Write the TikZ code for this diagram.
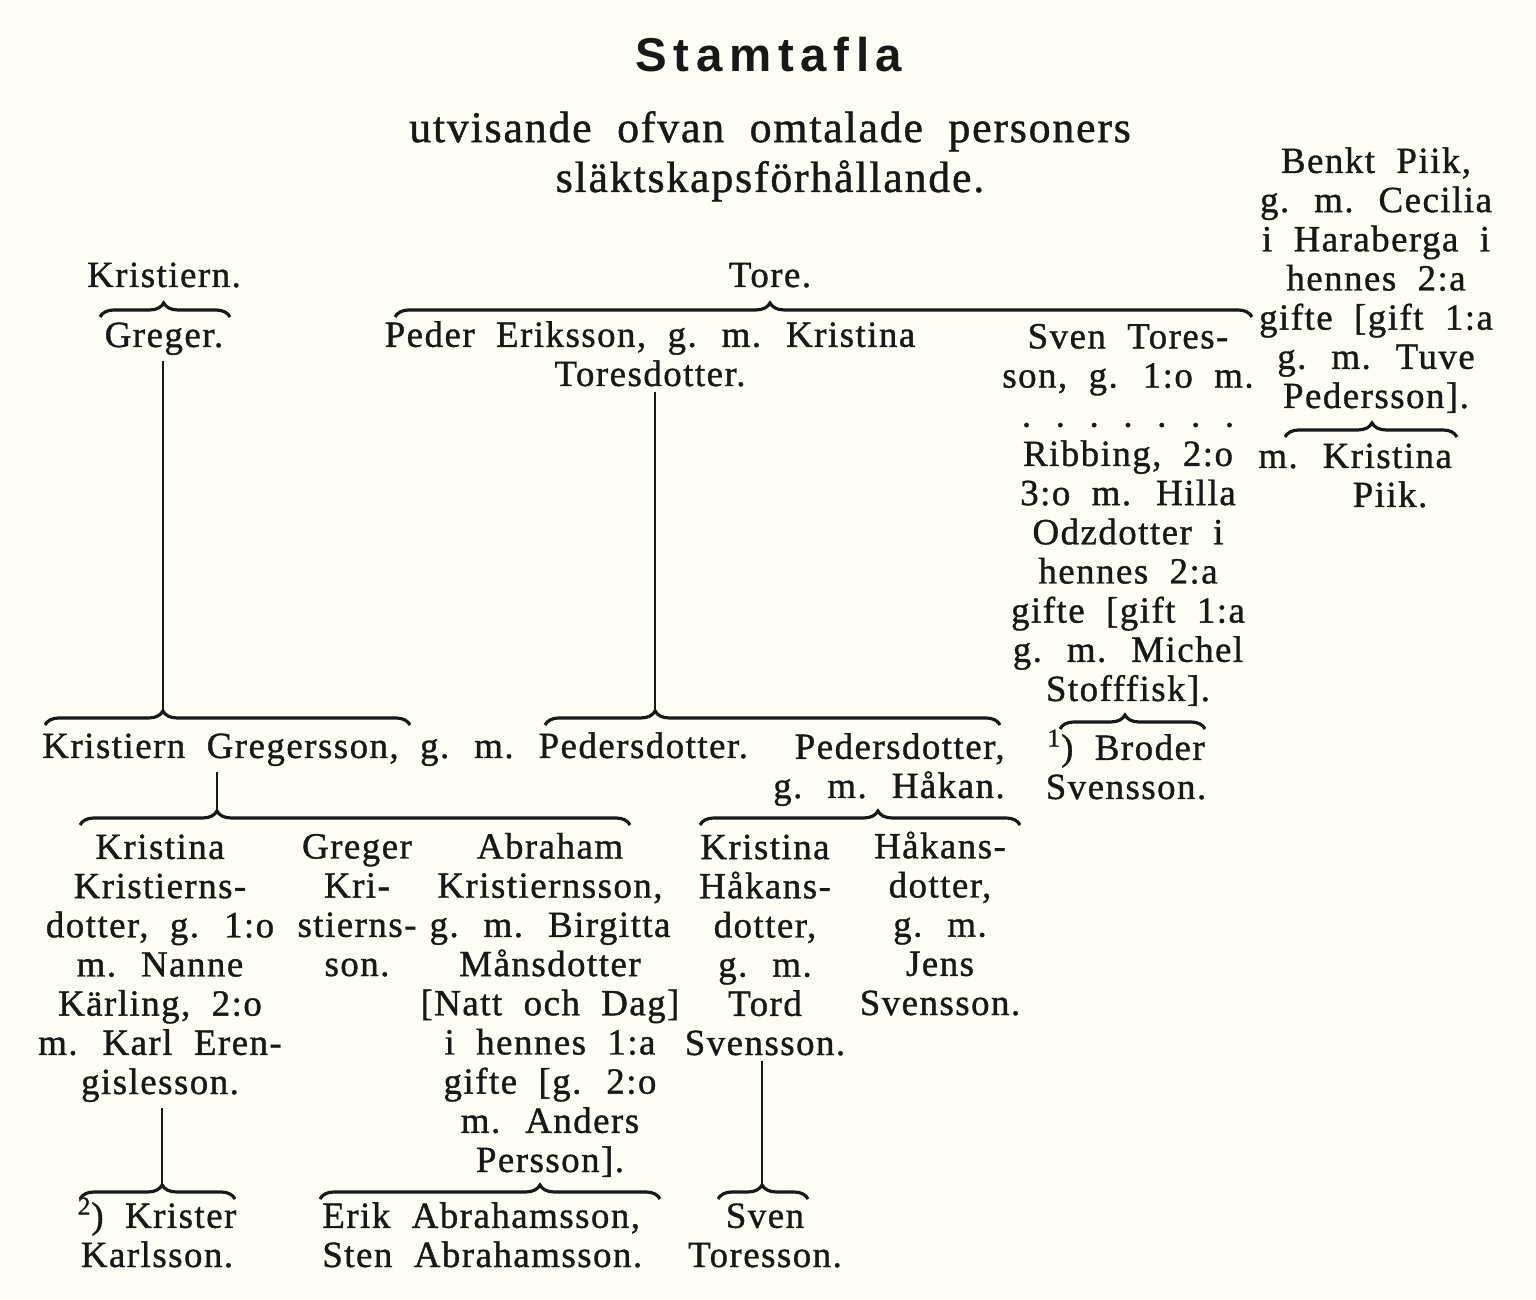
\documentclass[tikz,border=0pt]{standalone}
\usepackage{fontspec}
\setmainfont{Liberation Serif}[LetterSpace=4,WordSpace=2,FakeBold=1]
\newfontfamily\headfont{Liberation Sans}[LetterSpace=14]
\usetikzlibrary{decorations.pathreplacing}
\definecolor{paper}{RGB}{253,253,245}
\definecolor{ink}{RGB}{24,24,24}
\newcommand\bodysize{\fontsize{21}{22.3}\selectfont}
\newcommand\dotgap{\hspace{14pt}}

\begin{document}
\begin{tikzpicture}[x=0.02cm, y=-0.02cm,
  person/.style={inner sep=0pt, align=center, anchor=base, font=\bodysize, text=ink},
  brace/.style={decorate, decoration={brace, amplitude=8pt, aspect=#1}, line width=1.8pt, draw=ink},
  stem/.style={line width=0.8pt, draw=ink, shorten <=3pt}]
\fill[paper] (0,0) rectangle (1536,1300);
\useasboundingbox (0,0) rectangle (1536,1300);

% heading (multi-line nodes sit on the baseline of their last line)
\node[person, font=\headfont\bfseries\fontsize{27}{32}\selectfont] (title) at (769,72) {Stamtafla};
\node[person, font=\fontsize{25}{28.4}\selectfont] (subtitle) at (770,192) {utvisande ofvan omtalade personers\\släktskapsförhållande.};
%============
\node[person] (kristiern) at (164,287) {Kristiern.};
\node[person] (greger) at (164,347) {Greger.};
\node[person] (tore) at (770,287) {Tore.};
\node[person] (peder) at (650,386) {Peder Eriksson, g. m. Kristina\\Toresdotter.};
\node[person] (sven) at (1128,701) {Sven Tores-\\son, g. 1:o m.\\.\dotgap.\dotgap.\dotgap.\dotgap.\dotgap.\dotgap.\\Ribbing, 2:o\\3:o m. Hilla\\Odzdotter i\\hennes 2:a\\gifte [gift 1:a\\g. m. Michel\\Stofffisk].};
\node[person] (benkt) at (1376,408) {Benkt Piik,\\g. m. Cecilia\\i Haraberga i\\hennes 2:a\\gifte [gift 1:a\\g. m. Tuve\\Pedersson].};
\node[person, anchor=base west] (kristinaP) at (1258,468) {m. Kristina};
\node[person] (piik) at (1390,507) {Piik.};
%============
\node[person, anchor=base west] (kgrow) at (42,758) {Kristiern Gregersson, g. m. Pedersdotter.};
\node[person, anchor=base east, align=right] (pedersdotter) at (1005,798) {Pedersdotter,\\g. m. Håkan.};
\node[person] (broder) at (1126,799) {\textsuperscript{1}) Broder\\Svensson.};
%============
\node[person] (kristinaK) at (160,1094) {Kristina\\Kristierns-\\dotter, g. 1:o\\m. Nanne\\Kärling, 2:o\\m. Karl Eren-\\gislesson.};
\node[person] (gregerK) at (357,976) {Greger\\Kri-\\stierns-\\son.};
\node[person] (abraham) at (550,1172) {Abraham\\Kristiernsson,\\g. m. Birgitta\\Månsdotter\\{}[Natt och Dag]\\i hennes 1:a\\gifte [g. 2:o\\m. Anders\\Persson].};
\node[person] (kristinaH) at (765,1055) {Kristina\\Håkans-\\dotter,\\g. m.\\Tord\\Svensson.};
\node[person] (hakansdotter) at (940,1015) {Håkans-\\dotter,\\g. m.\\Jens\\Svensson.};
%============
\node[person] (krister) at (157,1267) {\textsuperscript{2}) Krister\\Karlsson.};
\node[person, anchor=base west, align=left] (erik) at (322,1267) {Erik Abrahamsson,\\Sten Abrahamsson.};
\node[person] (svenT) at (765,1267) {Sven\\Toresson.};
%============
\coordinate (kgTip) at (163,711);
\coordinate (pdTip) at (655,711);
\coordinate (kkTip) at (217,811);
\coordinate (krTip) at (162,1185);
\coordinate (stTip) at (762,1185);

\draw[brace=0.49] (100,317) -- (230,317);
\draw[brace=0.4376] (395,317) -- (1252,317);
\draw[brace=0.506] (1285,437) -- (1457,437);
\draw[brace=0.448] (1060,729) -- (1205,729);
\draw[brace=0.323] (45,725) -- (410,725);
\draw[brace=0.242] (545,725) -- (1000,725);
\draw[brace=0.249] (80,825) -- (630,825);
\draw[brace=0.556] (700,825) -- (1020,825);
\draw[brace=0.53] (80,1199) -- (235,1199);
\draw[brace=0.647] (320,1199) -- (660,1199);
\draw[brace=0.49] (718,1199) -- (808,1199);

\draw[stem] (greger.south -| kgTip) -- (kgTip);
\draw[stem] (peder.south -| pdTip) -- (pdTip);
\draw[stem] (kgrow.south -| kkTip) -- (kkTip);
\draw[stem] (kristinaK.south -| krTip) -- (krTip);
\draw[stem] (kristinaH.south -| stTip) -- (stTip);
\end{tikzpicture}
\end{document}
